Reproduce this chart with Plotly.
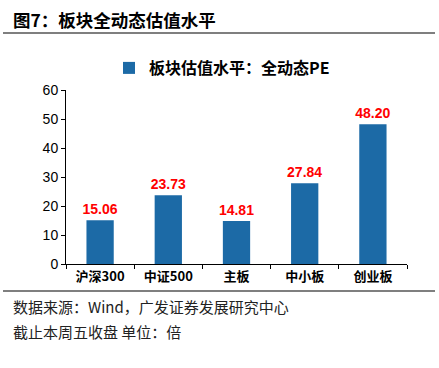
import plotly.graph_objects as go

categories = ["沪深300", "中证500", "主板", "中小板", "创业板"]
pe_values = [15.06, 23.73, 14.81, 27.84, 48.20]
value_labels = ["15.06", "23.73", "14.81", "27.84", "48.20"]
y_ticks = [0, 10, 20, 30, 40, 50, 60]

FONT = "Noto Sans CJK SC, Liberation Sans, Arial, sans-serif"
PW, PH = 341, 174

fig = go.Figure()
fig.add_trace(go.Bar(
    x=categories, y=pe_values,
    name="板块估值水平：全动态PE",
    marker=dict(color="#1C6AA6", line=dict(width=0)),
    text=value_labels, textposition="outside", constraintext="none",
    textfont=dict(color="#FF0000", size=14, family="Liberation Sans, Arial, sans-serif", weight="bold"),
    cliponaxis=False,
    showlegend=True,
))

fig.update_layout(
    width=439, height=368,
    paper_bgcolor="white", plot_bgcolor="white",
    margin=dict(l=66, r=32, t=90, b=104, autoexpand=False),
    bargap=0.6,
    font=dict(family=FONT, color="#000000"),
    showlegend=True,
    legend=dict(orientation="h", x=(222-66)/PW, xanchor="center", y=1 + (90-68)/PH, yanchor="middle",
                font=dict(size=16, family=FONT, weight="bold"), itemwidth=30),
    xaxis=dict(
        showline=True, linecolor="#000000", linewidth=1,
        ticks="outside", ticklen=4, tickcolor="#000000",
        tickson="boundaries", automargin=False,
        tickfont=dict(size=13, family=FONT, weight="bold"),
        showgrid=False,
    ),
    yaxis=dict(
        range=[0, 60], tickvals=y_ticks, automargin=False,
        showline=True, linecolor="#000000", linewidth=1,
        ticks="outside", ticklen=4, tickcolor="#000000",
        tickfont=dict(size=14, family="Liberation Sans, Arial, sans-serif"),
        showgrid=False, zeroline=False,
    ),
)

fig.add_annotation(text="<b>图7：板块全动态估值水平</b>", xref="paper", yref="paper",
                   x=-(66-11)/PW, y=1 + (90-20)/PH, xanchor="left", yanchor="middle",
                   showarrow=False, font=dict(size=17.5, family=FONT, color="#000000"))
fig.add_shape(type="line", xref="paper", yref="paper",
              x0=-63/PW, x1=(435-66)/PW, y0=1 + (90-33)/PH, y1=1 + (90-33)/PH,
              line=dict(color="#555555", width=1.5))
fig.add_shape(type="line", xref="paper", yref="paper",
              x0=-63/PW, x1=(435-66)/PW, y0=-(291-264)/PH, y1=-(291-264)/PH,
              line=dict(color="#555555", width=1.5))
fig.add_annotation(text="数据来源：Wind，广发证券发展研究中心", xref="paper", yref="paper",
                   x=-(66-11)/PW, y=-(306-264)/PH, xanchor="left", yanchor="middle",
                   showarrow=False, font=dict(size=15, family=FONT, color="#222222"))
fig.add_annotation(text="截止本周五收盘 单位：倍", xref="paper", yref="paper",
                   x=-(66-11)/PW, y=-(331-264)/PH, xanchor="left", yanchor="middle",
                   showarrow=False, font=dict(size=15, family=FONT, color="#222222"))

fig.write_html("out.html", config={"displayModeBar": False},
               post_script="document.body.style.margin='0';")
